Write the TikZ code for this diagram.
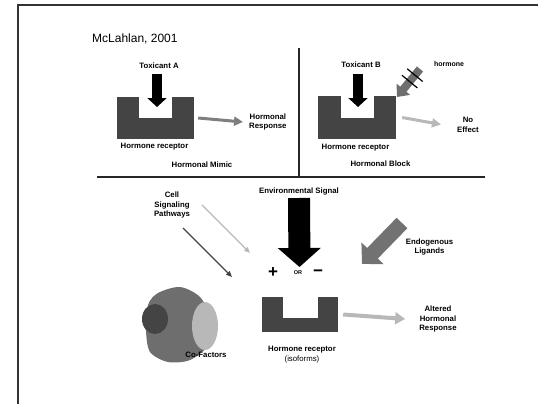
\documentclass[tikz,border=0pt]{standalone}
\usepackage{fontspec}
\setmainfont{Liberation Sans}
\usetikzlibrary{arrows.meta,calc}
\definecolor{recgray}{HTML}{444444}
\definecolor{midgray}{HTML}{7F7F7F}
\definecolor{lightgray}{HTML}{B8B8B8}
\definecolor{blobgray}{HTML}{6E6E6E}
\tikzset{
  lbl/.style={font=\fontsize{7.8}{9.8}\selectfont\bfseries, align=center},
  recbox/.style={fill=recgray, draw=none},
  notch/.style={fill=white, draw=none},
  divider/.style={line width=1.5pt, draw=black!85},
  blackarrow/.style={line width=10pt, -{Triangle[width=19pt,length=9pt]}},
  bigarrow/.style={line width=22pt, -{Triangle[width=42pt,length=19pt]}},
  resparrow/.style={line width=3pt, -{Triangle[width=9pt,length=9pt]}},
  thinarrow/.style={line width=1.2pt, -{Triangle[width=5pt,length=6pt]}}
}
\begin{document}
\begin{tikzpicture}[x=1pt,y=-1pt]
    \tikzstyle{every node}+=[inner sep=0pt]
    \useasboundingbox (0,0) rectangle (538,404);
    \draw [line width=1.5pt, black!80] (18,404) -- (18,5) -- (538,5);
    \node [anchor=west, font=\fontsize{12}{14}\selectfont] (title) at (92,39) {McLahlan, 2001};
    \draw [divider] (97,177) -- (485,177);
    \draw [divider] (299,48) -- (299,177);
    % hormonal mimic
    \node [lbl] (toxA) at (159,66) {Toxicant A};
    \node [recbox, minimum width=77, minimum height=42] (recA) at (155.5,118) {};
    \node [notch, minimum width=33, minimum height=21, anchor=north] (notchA) at (recA.north) {};
    \coordinate (tailA) at (157,74);
    \coordinate (tipA) at (157,107);
    \draw [blackarrow] (tailA) -- (tipA);
    \node [lbl] (recAlbl) at (154.5,147) {Hormone receptor};
    \node [lbl, anchor=west] (respA) at (249,122) {Hormonal\\Response};
    \draw [resparrow, midgray] ([xshift=4pt]recA.east) -- ([xshift=-6pt]respA.west);
    \node [lbl] (mimic) at (202,165) {Hormonal Mimic};
    % hormonal block
    \node [lbl] (toxB) at (361,65) {Toxicant B};
    \node [recbox, minimum width=78, minimum height=43] (recB) at (357,117.5) {};
    \node [notch, minimum width=33, minimum height=22, anchor=north] (notchB) at (recB.north) {};
    \coordinate (tailB) at (358,74);
    \coordinate (tipB) at (358,107);
    \draw [blackarrow] (tailB) -- (tipB);
    \node [lbl] (recBlbl) at (355.5,148) {Hormone receptor};
    \node [lbl] (block) at (380.5,164) {Hormonal Block};
    \node [lbl] (noEffect) at (468,124.5) {No\\Effect};
    \draw [resparrow, lightgray] ([xshift=6pt]recB.east) -- ([xshift=-16pt]noEffect.west);
    \node [lbl, font=\fontsize{7}{9}\selectfont\bfseries] (horm) at (449,64) {hormone};
    \coordinate (hormTail) at (420,69);
    \coordinate (hormTip) at (397,97);
    \draw [line width=8pt, blobgray, -{Triangle[width=17pt,length=10pt]}] (hormTail) -- (hormTip);
    \draw [line width=1.2pt] ($(hormTail)!0.22!(hormTip)!10pt!90:(hormTip)$) -- ($(hormTail)!0.22!(hormTip)!10pt!-90:(hormTip)$);
    \draw [line width=1.2pt] ($(hormTail)!0.45!(hormTip)!10pt!90:(hormTip)$) -- ($(hormTail)!0.45!(hormTip)!10pt!-90:(hormTip)$);
    % environmental signal
    \node [lbl] (envSig) at (299,191) {Environmental Signal};
    \coordinate (envTail) at (299,198);
    \coordinate (envTip) at (299.5,267);
    \draw [bigarrow] (envTail) -- (envTip);
    \node [font=\fontsize{17}{17}\selectfont\bfseries] (plus) at (273,273) {+};
    \node [font=\fontsize{5.5}{6}\selectfont\bfseries] (or) at (298,273) {OR};
    \node [font=\fontsize{17}{17}\selectfont\bfseries] (minus) at (318,273) {−};
    \node [recbox, minimum width=76, minimum height=35] (recC) at (300,314.5) {};
    \node [notch, minimum width=35, minimum height=21, anchor=north] (notchC) at (recC.north) {};
    \node [lbl] (recClbl) at (302,355) {Hormone receptor\\\mdseries(isoforms)};
    \node [lbl] (altered) at (438,319) {Altered\\Hormonal\\Response};
    \draw [resparrow, lightgray, line width=4pt, -{Triangle[width=12pt,length=10pt]}] ([xshift=5pt]recC.east) -- ([xshift=-14pt]altered.west);
    % cell signaling
    \node [lbl] (cellSig) at (172,205) {Cell\\Signaling\\Pathways};
    \coordinate (sigLight) at (250,253);
    \coordinate (sigDark) at (232,277);
    \draw [thinarrow, lightgray] ([shift={(30pt,0pt)}]cellSig.center) -- (sigLight);
    \draw [thinarrow, recgray] ([shift={(11pt,-23pt)}]cellSig.center) -- (sigDark);
    % endogenous ligands
    \node [lbl] (endo) at (429.5,247) {Endogenous\\Ligands};
    \coordinate (endoTail) at (402,223);
    \coordinate (endoTip) at (362,264);
    \draw [line width=15pt, midgray!90!black, -{Triangle[width=30pt,length=15pt]}] (endoTail) -- (endoTip);
    % co-factors
    \fill [blobgray] plot [smooth cycle] coordinates {(158,293) (180,287) (200,297) (210,318) (208,345) (190,360) (168,362) (150,352) (146,330) (148,305)};
    \fill [recgray] (155,319) ellipse (13 and 15);
    \fill [lightgray] (205,326) ellipse (13 and 24);
    \node [lbl] (cofactors) at (206,355) {Co-Factors};
\end{tikzpicture}
\end{document}
